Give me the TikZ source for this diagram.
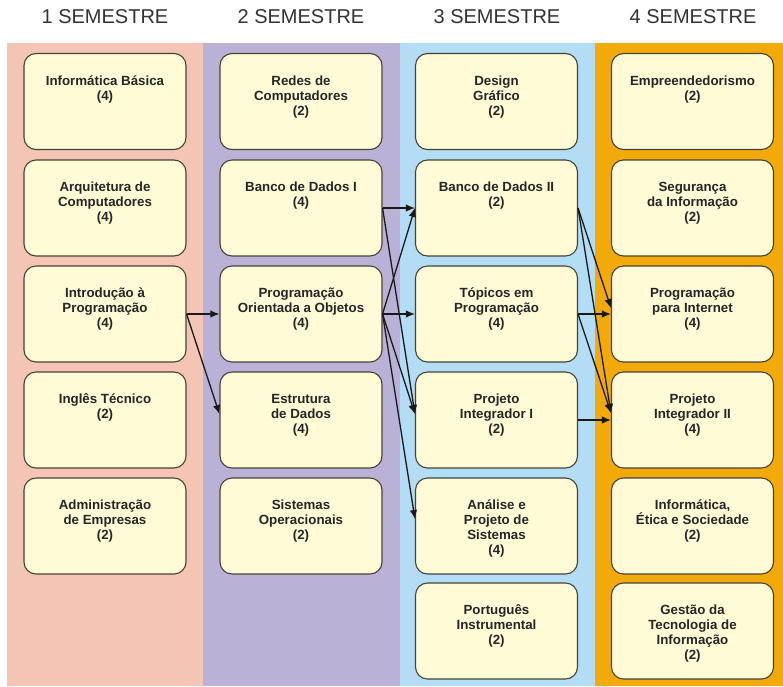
\documentclass[tikz,border=0pt]{standalone}
\usepackage{fontspec}
\setmainfont{Liberation Sans}
\usepackage{tikz}
\usetikzlibrary{arrows.meta,positioning}
\definecolor{sem_one}{RGB}{244,196,180}
\definecolor{sem_two}{RGB}{186,177,214}
\definecolor{sem_three}{RGB}{178,221,245}
\definecolor{sem_four}{RGB}{242,170,10}
\definecolor{disc_fill}{RGB}{254,251,214}
\definecolor{disc_line}{RGB}{70,66,56}

\tikzset{
  discbox/.style={draw=disc_line, fill=disc_fill, line width=1.1pt,
    rounded corners=12pt, minimum width=162pt, minimum height=96pt, inner sep=0pt},
  disctext/.style={anchor=north, align=center, inner sep=0pt, text=black!85,
    font=\fontsize{13.3}{15}\selectfont\bfseries},
  semhead/.style={font=\fontsize{20}{24}\selectfont, text=black!80},
  req/.style={-{Latex[length=9pt,width=7.5pt]}, line width=1.3pt, black!90}
}

% box with its title set near the top
\newcommand{\disciplina}[4]{%
  \node[discbox] (#1) at (#2,#3) {};
  \node[disctext] (#1-t) at ([yshift=-19pt]#1.north) {\rule{0pt}{13pt}#4};}

\begin{document}
\begin{tikzpicture}[x=1pt, y=-1pt]
  \useasboundingbox (0,0) rectangle (783,686);
  % Semester columns
  \fill[sem_one] (7,43) rectangle (203,686);
  \fill[sem_two] (203,43) rectangle (400,686);
  \fill[sem_three] (400,43) rectangle (595,686);
  \fill[sem_four] (595,43) rectangle (783,686);
  \node[semhead] (h1) at (105,17) {1 SEMESTRE};
  \node[semhead] (h2) at (301,17) {2 SEMESTRE};
  \node[semhead] (h3) at (497,17) {3 SEMESTRE};
  \node[semhead] (h4) at (693,17) {4 SEMESTRE};

  % 1st semester
  \disciplina{infbas}{105}{101.5}{Informática Básica\\(4)}
  \disciplina{arqcomp}{105}{208}{Arquitetura de\\Computadores\\(4)}
  \disciplina{introprog}{105}{314}{Introdução à\\Programação\\(4)}
  \disciplina{ingles}{105}{420}{Inglês Técnico\\(2)}
  \disciplina{admemp}{105}{526}{Administração\\de Empresas\\(2)}

  % 2nd semester
  \disciplina{redes}{301}{101.5}{Redes de\\Computadores\\(2)}
  \disciplina{bdone}{301}{208}{Banco de Dados I\\(4)}
  \disciplina{poo}{301}{314}{Programação\\Orientada a Objetos\\(4)}
  \disciplina{estrutura}{301}{420}{Estrutura\\de Dados\\(4)}
  \disciplina{sisop}{301}{526}{Sistemas\\Operacionais\\(2)}

  % 3rd semester
  \disciplina{design}{496.5}{101.5}{Design\\Gráfico\\(2)}
  \disciplina{bdtwo}{496.5}{208}{Banco de Dados II\\(2)}
  \disciplina{topicos}{496.5}{314}{Tópicos em\\Programação\\(4)}
  \disciplina{pione}{496.5}{420}{Projeto\\Integrador I\\(2)}
  \disciplina{analise}{496.5}{526}{Análise e\\Projeto de\\Sistemas\\(4)}
  \disciplina{portugues}{496.5}{631}{Português\\Instrumental\\(2)}

  % 4th semester
  \disciplina{empreend}{692.5}{101.5}{Empreendedorismo\\(2)}
  \disciplina{seguranca}{692.5}{208}{Segurança\\da Informação\\(2)}
  \disciplina{progweb}{692.5}{314}{Programação\\para Internet\\(4)}
  \disciplina{pitwo}{692.5}{420}{Projeto\\Integrador II\\(4)}
  \disciplina{etica}{692.5}{526}{Informática,\\Ética e Sociedade\\(2)}
  \disciplina{gestao}{692.5}{631}{Gestão da\\Tecnologia de\\Informação\\(2)}

  % Prerequisites
  \draw[req] (introprog.east) -- (poo.west);
  \draw[req] (introprog.east) -- ([yshift=6pt]estrutura.west);
  \draw[req] (bdone.east) -- (bdtwo.west);
  \draw[req] (bdone.east) -- ([yshift=6pt]pione.west);
  \draw[req] (poo.east) -- (bdtwo.west);
  \draw[req] (poo.east) -- (topicos.west);
  \draw[req] (poo.east) -- ([yshift=6pt]pione.west);
  \draw[req] (poo.east) -- ([yshift=7pt]analise.west);
  \draw[req] (bdtwo.east) -- ([yshift=6pt]progweb.west);
  \draw[req] (bdtwo.east) -- ([yshift=7pt]pitwo.west);
  \draw[req] (topicos.east) -- (progweb.west);
  \draw[req] (topicos.east) -- ([yshift=7pt]pitwo.west);
  \draw[req] (pione.east) -- (pitwo.west);
\end{tikzpicture}
\end{document}
